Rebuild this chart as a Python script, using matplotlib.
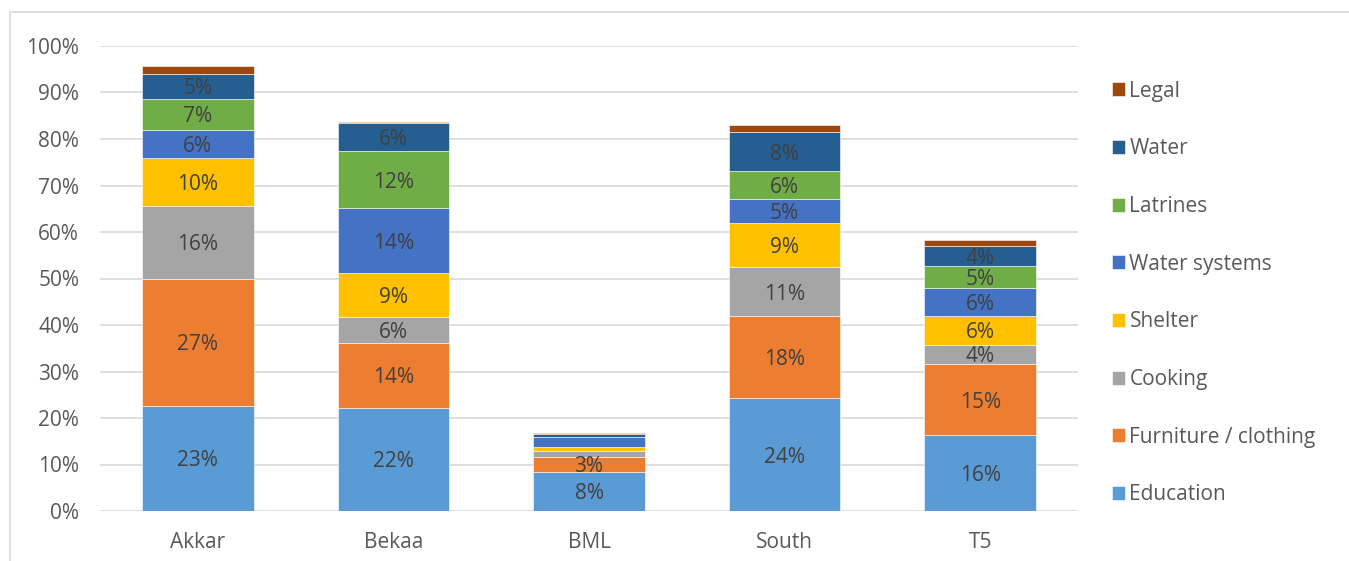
import matplotlib.pyplot as plt
import matplotlib.patches as mpatches
import numpy as np

plt.rcParams['font.family'] = ['Open Sans', 'DejaVu Sans']

# ----------------------------
# Data (percent of households)
# ----------------------------
regions = ["Akkar", "Bekaa", "BML", "South", "T5"]
categories = ["Education", "Furniture / clothing", "Cooking", "Shelter",
              "Water systems", "Latrines", "Water", "Legal"]

education     = [22.6, 22.2, 8.4, 24.3, 16.3]
furniture     = [27.3, 13.9, 3.3, 17.6, 15.3]
cooking       = [15.7, 5.6, 1.1, 10.6, 4.2]
shelter       = [10.4, 9.4, 0.9, 9.4, 6.1]
water_systems = [6.0, 14.0, 2.2, 5.3, 6.1]
latrines      = [6.7, 12.3, 0.0, 6.0, 4.6]
water         = [5.2, 6.1, 0.6, 8.2, 4.3]
legal         = [1.7, 0.2, 0.3, 1.6, 1.3]

series = [education, furniture, cooking, shelter, water_systems, latrines, water, legal]
colors = ["#5B9BD5", "#ED7D31", "#A5A5A5", "#FFC000",
          "#4472C4", "#70AD47", "#255E91", "#9E480E"]

# ----------------------------
# Plot
# ----------------------------
W, H = 1349, 561
fs = 15
fig = plt.figure(figsize=(W / 100, H / 100), dpi=100)
ax = fig.add_axes([100 / W, 50 / H, 978 / W, 465 / H])

x = np.arange(len(regions))
bottom = np.zeros(len(regions))
handles = []
for name, vals, col in zip(categories, series, colors):
    vals = np.array(vals)
    bars = ax.bar(x, vals, 0.57, bottom=bottom, color=col,
                  edgecolor="white", linewidth=0.4, zorder=3, label=name)
    for xi, b, v in zip(x, bottom, vals):
        if v >= 3:
            ax.text(xi, b + v / 2, f"{round(v):d}%", ha="center", va="center_baseline",
                    fontsize=fs, color="#404040", zorder=4)
    bottom += vals
    handles.append(bars)

ax.set_xlim(-0.5, len(regions) - 0.5)
ax.set_ylim(0, 100)
ax.set_yticks(np.arange(0, 101, 10))
ax.set_yticklabels([f"{t}%" for t in range(0, 101, 10)])
ax.set_xticks(x)
ax.set_xticklabels(regions)
ax.tick_params(length=0, labelsize=fs, colors="#595959")
ax.tick_params(axis="x", pad=15)
ax.tick_params(axis="y", pad=15)
ax.yaxis.grid(True, color="#d9d9d9", linewidth=1.2, zorder=0)
for s in ax.spines.values():
    s.set_visible(False)

# outer chart border
fig.patches.append(mpatches.Rectangle((10 / W, -0.1), 2, (H - 12) / H + 0.1,
                                      transform=fig.transFigure, fill=False,
                                      edgecolor="#d9d9d9", linewidth=1.2))

leg = fig.legend(handles[::-1], categories[::-1], loc="upper left",
                 bbox_to_anchor=(1093 / W, 1 - 62 / H), frameon=False,
                 fontsize=fs, handlelength=0.65, handleheight=0.65,
                 handletextpad=0.2, labelspacing=1.76, labelcolor="#595959")

fig.savefig("out.png", dpi=100)
